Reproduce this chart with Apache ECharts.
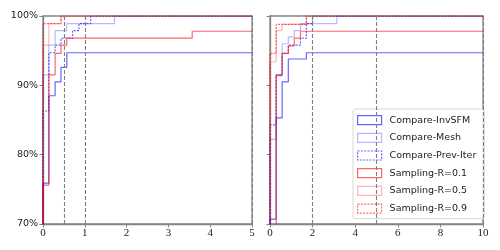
<!DOCTYPE html>
<html>
<head>
<meta charset="utf-8">
<script src="https://cdn.jsdelivr.net/npm/echarts@6/dist/echarts.min.js"></script>
<style>
  html, body { margin: 0; padding: 0; background: #fff; }
  #chart { width: 500px; height: 250px; }
</style>
</head>
<body>
<div id="chart"></div>
<script>
const seriesNames = ['Compare-InvSFM', 'Compare-Mesh', 'Compare-Prev-Iter', 'Sampling-R=0.1', 'Sampling-R=0.5', 'Sampling-R=0.9'];

// left panel (x 0..5): [x where the step starts, cumulative %]
const leftInvSfm = [[0, 75.9], [0.14, 88.5], [0.29, 90.5], [0.43, 92.6], [0.57, 94.7]];
const leftMesh = [[0, 91.5], [0.14, 95.8], [0.29, 97.9], [0.57, 98.9], [1.71, 100]];
const leftPrevIter = [[0, 86.3], [0.14, 94.7], [0.29, 95.8], [0.43, 96.8], [0.71, 97.9], [0.86, 98.9], [1.14, 100]];
const leftR01 = [[0, 75.6], [0.14, 91.5], [0.29, 94.6], [0.43, 95.8], [0.57, 96.8], [3.57, 97.8]];
const leftR05 = [[0, 95.8], [0.14, 98.9], [0.43, 100]];
const leftR09 = [[0, 98.9], [0.43, 100]];

// right panel (x 0..10)
const rightInvSfm = [[0, 70.7], [0.29, 85.3], [0.57, 90.5], [0.86, 93.8], [1.71, 94.7]];
const rightMesh = [[0, 82.2], [0.29, 91.5], [0.57, 96.0], [0.86, 97.0], [1.14, 97.9], [1.43, 98.9], [3.14, 100]];
const rightPrevIter = [[0, 84.3], [0.29, 91.5], [0.57, 94.6], [0.86, 95.8], [1.43, 96.8], [1.71, 98.9], [2.0, 100]];
const rightR01 = [[0, 65], [0.29, 91.4], [0.57, 94.6], [0.86, 95.7], [1.14, 96.8], [1.43, 97.8]];
const rightR05 = [[0, 93.4], [0.29, 97.9], [0.57, 98.8], [1.71, 100]];
const rightR09 = [[0, 94.6], [0.29, 98.8], [1.71, 100]];

const leftThresholds = [0.5, 1, 5];
const rightThresholds = [2, 5, 10];
const yMin = 70, yMax = 100;
const leftXMax = 5, rightXMax = 10;

const lineStyles = [
  { color: 'rgba(0,0,255,0.6)', type: 'solid' },
  { color: 'rgba(0,0,255,0.28)', type: 'solid' },
  { color: 'rgba(0,0,255,0.6)', type: [2, 1.3] },
  { color: 'rgba(255,0,0,0.6)', type: 'solid' },
  { color: 'rgba(255,0,0,0.28)', type: 'solid' },
  { color: 'rgba(255,0,0,0.6)', type: [2, 1.3] }
];

const frame = '#858585';
const sans = 'DejaVu Sans';
const serif = 'Liberation Serif';

// cumulative step line: rise from below the axis at x=0, run out to the panel's end
const stepData = (pts, xMax) => [[0, 0], ...pts, [xMax, pts[pts.length - 1][1]]];

const makeSeries = (sets, xMax, idx, thresholds) => sets.map((pts, i) => {
  const s = {
    name: seriesNames[i],
    type: 'line',
    xAxisIndex: idx,
    yAxisIndex: idx,
    step: 'end',
    showSymbol: false,
    clip: true,
    data: stepData(pts, xMax),
    lineStyle: { color: lineStyles[i].color, type: lineStyles[i].type, width: 1.2 },
    itemStyle: { color: lineStyles[i].color }
  };
  if (i === 0) {
    s.markLine = {
      silent: true,
      symbol: 'none',
      label: { show: false },
      lineStyle: { color: '#808080', type: [4, 2], width: 1.1 },
      data: thresholds.map(t => ({ xAxis: t }))
    };
  }
  return s;
});

const xAxisBase = (idx, max, interval) => ({
  type: 'value',
  gridIndex: idx,
  min: 0,
  max: max,
  interval: interval,
  splitLine: { show: false },
  axisLine: { lineStyle: { color: frame, width: 1.3 } },
  axisTick: { length: 3.5, lineStyle: { color: frame } },
  axisLabel: { fontFamily: serif, fontSize: 11, color: '#222', margin: 4 }
});

const yAxisBase = (idx, showLabel) => ({
  type: 'value',
  gridIndex: idx,
  min: yMin,
  max: yMax,
  interval: 10,
  splitLine: { show: false },
  axisLine: { show: true, lineStyle: { color: frame, width: 1.3 } },
  axisTick: { length: 3.5, lineStyle: { color: frame } },
  axisLabel: { show: showLabel, fontFamily: sans, fontSize: 9.5, color: '#222', margin: 5, formatter: '{value}%' }
});

const chart = echarts.init(document.getElementById('chart'), null, { renderer: 'canvas' });

chart.setOption({
  animation: false,
  backgroundColor: '#fff',
  grid: [
    { left: 43, top: 16, width: 209, height: 208, show: true, borderColor: frame, borderWidth: 1.3 },
    { left: 270, top: 16, width: 213, height: 208, show: true, borderColor: frame, borderWidth: 1.3 }
  ],
  xAxis: [xAxisBase(0, leftXMax, 1), xAxisBase(1, rightXMax, 2)],
  yAxis: [yAxisBase(0, true), yAxisBase(1, false)],
  legend: {
    left: 353,
    top: 109,
    orient: 'vertical',
    padding: [6, 8, 5, 4],
    itemWidth: 24,
    itemHeight: 9,
    itemGap: 7.5,
    backgroundColor: 'rgba(255,255,255,0.85)',
    borderColor: '#d8d8d8',
    borderWidth: 1,
    borderRadius: 3,
    textStyle: { fontFamily: sans, fontSize: 9.5, color: '#222', lineHeight: 9, padding: [0, 0, 0, 3] },
    data: seriesNames.map((n, i) => ({
      name: n,
      icon: 'rect',
      itemStyle: {
        color: 'rgba(0,0,0,0)',
        borderColor: lineStyles[i].color,
        borderWidth: 1.2,
        borderType: lineStyles[i].type
      }
    }))
  },
  series: [
    ...makeSeries([leftInvSfm, leftMesh, leftPrevIter, leftR01, leftR05, leftR09], leftXMax, 0, leftThresholds),
    ...makeSeries([rightInvSfm, rightMesh, rightPrevIter, rightR01, rightR05, rightR09], rightXMax, 1, rightThresholds)
  ]
});
</script>
</body>
</html>
